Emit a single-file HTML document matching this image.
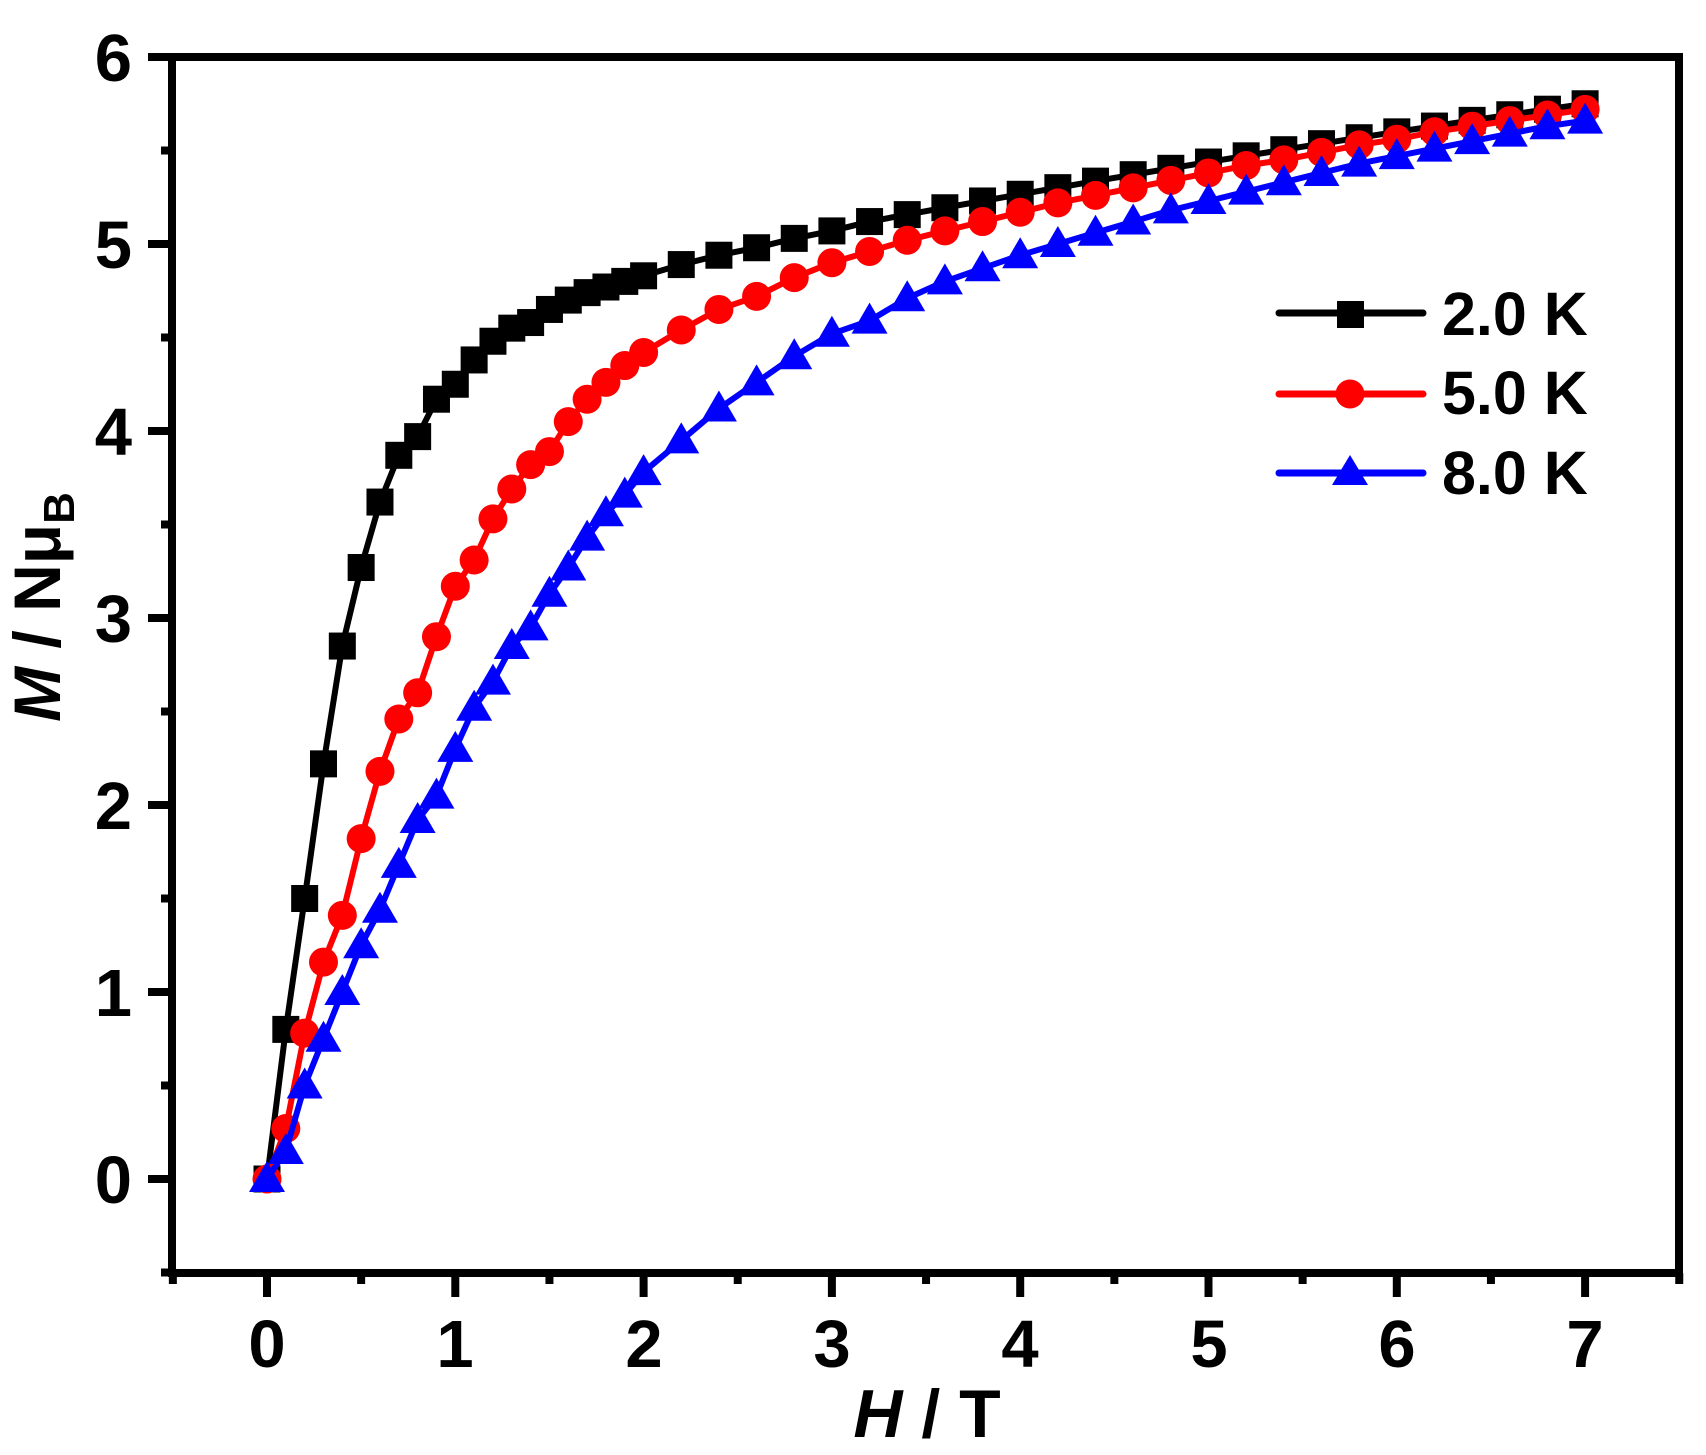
<!DOCTYPE html>
<html><head><meta charset="utf-8"><style>
html,body{margin:0;padding:0;background:#fff;}
svg{display:block;}
text{font-family:"Liberation Sans",Arial,sans-serif;font-weight:bold;fill:#000;}
</style></head><body>
<svg id="s" width="1706" height="1455" viewBox="0 0 1706 1455" xmlns="http://www.w3.org/2000/svg">
<rect width="1706" height="1455" fill="#fff"/>
<g id="data"></g>
<rect x="172" y="57" width="1507" height="1216" fill="none" stroke="#000" stroke-width="8"/>
<g id="ticks" stroke="#000" stroke-width="8"></g>
<g font-size="67" text-anchor="end">
<text x="132" y="1203">0</text>
<text x="132" y="1016">1</text>
<text x="132" y="829">2</text>
<text x="132" y="642">3</text>
<text x="132" y="455">4</text>
<text x="132" y="268">5</text>
<text x="132" y="81">6</text>
</g>
<g font-size="67" text-anchor="middle">
<text x="267" y="1367">0</text>
<text x="455" y="1367">1</text>
<text x="644" y="1367">2</text>
<text x="832" y="1367">3</text>
<text x="1020" y="1367">4</text>
<text x="1209" y="1367">5</text>
<text x="1397" y="1367">6</text>
<text x="1585" y="1367">7</text>
</g>
<text x="927" y="1437" font-size="68" text-anchor="middle"><tspan font-style="italic">H</tspan> / T</text>
<text transform="translate(60,607) rotate(-90)" font-size="66" text-anchor="middle"><tspan font-style="italic">M</tspan> / Nμ<tspan font-size="44" dy="14">B</tspan></text>
<g stroke-width="7" stroke-linecap="round">
<line x1="1279" y1="313" x2="1423" y2="313" stroke="#000"/>
<line x1="1279" y1="394" x2="1423" y2="394" stroke="#f00"/>
<line x1="1279" y1="473" x2="1423" y2="473" stroke="#00f"/>
</g>
<rect x="1337" y="301" width="27" height="27" fill="#000"/>
<circle cx="1350" cy="394" r="14.5" fill="#f00"/>
<polygon points="1350,455 1368,485 1332,485" fill="#00f"/>
<g font-size="61">
<text x="1442" y="335">2.0 K</text>
<text x="1442" y="414">5.0 K</text>
<text x="1442" y="494">8.0 K</text>
</g>
</svg>
<script>
var X=function(h){return 267+h*188.3;},Y=function(m){return 1179-m*187;};
var H=[];for(var i=0;i<=20;i++)H.push(i/10);for(var i=11;i<=35;i++)H.push(i/5);
var a=[0,0.8,1.5,2.22,2.85,3.27,3.62,3.87,3.97,4.17,4.25,4.38,4.48,4.55,4.58,4.65,4.7,4.74,4.77,4.8,4.83,4.89,4.94,4.98,5.03,5.07,5.12];
while(a.length<H.length){var h=H[a.length];var u=(h-3.2)/3.8;a.push(5.12+0.63*u+0.08*u*(1-u));}
var b=[0,0.27,0.78,1.16,1.41,1.82,2.18,2.46,2.6,2.9,3.17,3.31,3.53,3.69,3.82,3.89,4.05,4.17,4.26,4.35,4.42,4.54,4.65,4.72,4.82,4.9,4.96,5.02,5.07,5.12,5.17,5.22,5.26,5.3,5.34,5.38,5.42,5.45,5.49,5.53,5.56,5.6,5.63,5.66,5.69,5.72];
var c=[0,0.15,0.5,0.75,1.0,1.25,1.44,1.68,1.92,2.05,2.3,2.52,2.66,2.85,2.95,3.13,3.27,3.43,3.56,3.66,3.78,3.95,4.12,4.26,4.4,4.52,4.59,4.71,4.8,4.87,4.94,5.0,5.06,5.12,5.18,5.23,5.28,5.33,5.38,5.43,5.47,5.51,5.55,5.59,5.63,5.66];
var s='';
function line(d,col){var p=d.map(function(m,i){return X(H[i]).toFixed(1)+','+Y(m).toFixed(1)}).join(' ');
s+='<polyline points="'+p+'" fill="none" stroke="'+col+'" stroke-width="6" stroke-linejoin="round"/>';}
line(a,'#000');a.forEach(function(m,i){s+='<rect x="'+(X(H[i])-13.5)+'" y="'+(Y(m)-13.5)+'" width="27" height="27" fill="#000"/>';});
line(b,'#f00');b.forEach(function(m,i){s+='<circle cx="'+X(H[i])+'" cy="'+Y(m)+'" r="14.5" fill="#f00"/>';});
line(c,'#00f');c.forEach(function(m,i){var x=X(H[i]),y=Y(m);s+='<polygon points="'+x+','+(y-18)+' '+(x+18)+','+(y+13)+' '+(x-18)+','+(y+13)+'" fill="#00f"/>';});
document.getElementById('data').innerHTML=s;
var t='';
for(var k=-0.5;k<=7.5001;k+=0.5){var x=X(k),maj=Math.abs(k-Math.round(k))<0.01&&k>=0&&k<=7;t+='<line x1="'+x+'" y1="1273" x2="'+x+'" y2="'+(maj?1297:1284)+'"/>';}
for(var k=-0.5;k<=6.0001;k+=0.5){var y=Y(k),maj=Math.abs(k-Math.round(k))<0.01&&k>=0;t+='<line x1="172" y1="'+y+'" x2="'+(maj?148:161)+'" y2="'+y+'"/>';}
document.getElementById('ticks').innerHTML=t;
</script>
</body></html>
